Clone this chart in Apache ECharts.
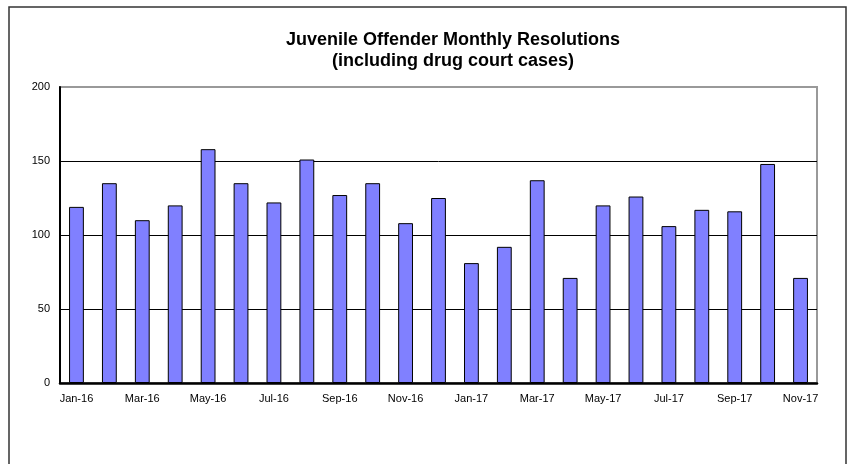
<!DOCTYPE html>
<html>
<head>
<meta charset="utf-8">
<script src="https://cdn.jsdelivr.net/npm/echarts@6/dist/echarts.min.js"></script>
<style>
html,body{margin:0;padding:0;background:#fff;}
#c{width:854px;height:464px;}
</style>
</head>
<body>
<div id="c"></div>
<script>
const categories = ['Jan-16','Feb-16','Mar-16','Apr-16','May-16','Jun-16','Jul-16','Aug-16','Sep-16','Oct-16','Nov-16','Dec-16',
  'Jan-17','Feb-17','Mar-17','Apr-17','May-17','Jun-17','Jul-17','Aug-17','Sep-17','Oct-17','Nov-17'];
const resolutions = [119,135,110,120,158,135,122,151,127,135,108,125,81,92,137,71,120,126,106,117,116,148,71];
const yTicks = [0,50,100,150,200];
const titleLines = ['Juvenile Offender Monthly Resolutions','(including drug court cases)'];

const chart = echarts.init(document.getElementById('c'));
const font = 'Liberation Sans, Arial, Helvetica, sans-serif';
chart.setOption({
  animation: false,
  backgroundColor: '#fff',
  graphic: [
    { type: 'rect', silent: true, z: -1,
      shape: { x: 9, y: 7, width: 837, height: 470 },
      style: { fill: 'none', stroke: '#333', lineWidth: 1.5 } },
    { type: 'text', silent: true,
      x: 453, y: 51,
      style: { text: titleLines.join('\n'), font: 'bold 18px ' + font, fill: '#000',
               align: 'center', verticalAlign: 'middle', lineHeight: 21 } }
  ],
  grid: { left: 60, right: 37, top: 87, bottom: 81, show: true, borderColor: '#999', borderWidth: 2, backgroundColor: 'transparent' },
  xAxis: {
    type: 'category', data: categories,
    axisLine: { lineStyle: { color: '#000', width: 2.5 } },
    axisTick: { show: false },
    axisLabel: { interval: 1, color: '#000', fontSize: 11, fontFamily: font, margin: 10 }
  },
  yAxis: {
    type: 'value', min: yTicks[0], max: yTicks[yTicks.length-1], interval: 50,
    axisLine: { show: true, lineStyle: { color: '#000', width: 2 } },
    axisTick: { show: false },
    axisLabel: { color: '#000', fontSize: 11, fontFamily: font, margin: 10 },
    splitLine: { lineStyle: { color: ['#000','#000','#000','#000','#999'], width: 1 } }
  },
  series: [{
    type: 'bar', data: resolutions, barWidth: '45%',
    itemStyle: { color: '#8080FF', borderColor: '#000', borderWidth: 1 }
  }]
});
</script>
</body>
</html>
